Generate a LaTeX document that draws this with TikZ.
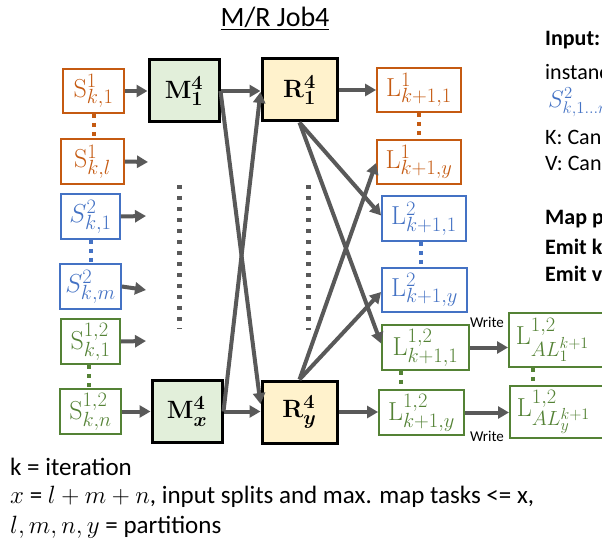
\RequirePackage{fix-cm}
\documentclass[tikz,border=0pt]{standalone}
\usepackage[no-math]{fontspec}
\setmainfont{Carlito}
\usetikzlibrary{arrows.meta,calc}
\DeclareMathSizes{26}{26}{20.5}{16}
\DeclareMathSizes{25}{25}{20}{15}
\definecolor{cOr}{HTML}{C55A11}
\definecolor{cBl}{HTML}{4472C4}
\definecolor{cGr}{HTML}{548235}
\definecolor{cAr}{HTML}{595959}
\definecolor{fM}{HTML}{E2EFDA}
\definecolor{fR}{HTML}{FFF2CC}
\tikzset{
  box/.style={draw, line width=1.8pt, inner sep=0pt, font=\fontsize{26}{30}\selectfont},
  obox/.style={box, draw=cOr, text=cOr},
  bbox/.style={box, draw=cBl, text=cBl},
  gbox/.style={box, draw=cGr, text=cGr},
  task/.style={draw=black, line width=3pt, inner sep=0pt, font=\fontsize{25}{30}\selectfont\boldmath},
  mtask/.style={task, fill=fM, minimum width=70pt, minimum height=62pt},
  rtask/.style={task, fill=fR, minimum width=75pt, minimum height=62pt},
  arr/.style={draw=cAr, line width=4pt, -{Triangle[length=11pt,width=12pt]}},
  dotc/.style={line width=4pt, dash pattern=on 4pt off 5pt},
  bigdots/.style={draw=cAr, line width=5pt, dash pattern=on 4pt off 7pt},
  rtext/.style={anchor=west, inner sep=0pt, font=\fontsize{22}{26}\selectfont},
  rbold/.style={rtext, font=\fontsize{22}{26}\selectfont\bfseries},
  btext/.style={anchor=west, inner sep=0pt, font=\fontsize{25}{30}\selectfont},
  wtext/.style={inner sep=0pt, font=\fontsize{15}{18}\selectfont}
}
\begin{document}
\begin{tikzpicture}[x=1pt,y=-1pt]
\useasboundingbox (0,0) rectangle (602,548);
\clip (0,0) rectangle (602,548);

% title
\node[inner sep=0pt, font=\fontsize{28}{32}\selectfont] (title) at (275,18) {\underline{M/R Job4}};

% input splits
\node[obox, minimum width=61pt, minimum height=44pt] (S11) at (93.5,91) {$\mathrm{S}^1_{k,1}$};
\node[obox, minimum width=63pt, minimum height=45pt] (S1l) at (92.5,161.5) {$\mathrm{S}^1_{k,l}$};
\node[bbox, minimum width=59pt, minimum height=45pt] (S21) at (90.5,216.5) {$S^2_{k,1}$};
\node[bbox, minimum width=61pt, minimum height=45pt] (S2m) at (90.5,286.5) {$S^2_{k,m}$};
\node[gbox, minimum width=59pt, minimum height=45pt] (S121) at (90.5,341.5) {$\mathrm{S}^{1,2}_{k,1}$};
\node[gbox, minimum width=61pt, minimum height=45pt] (S12n) at (90.5,411.5) {$\mathrm{S}^{1,2}_{k,n}$};

% map and reduce tasks
\node[mtask] (M1) at (184,91) {$\mathrm{M}^4_1$};
\node[mtask] (Mx) at (187,411.5) {$\mathrm{M}^4_x$};
\node[rtask] (R1) at (299.5,90) {$\mathrm{R}^4_1$};
\node[rtask] (Ry) at (299.5,412) {$\mathrm{R}^4_y$};

% outputs
\node[obox, minimum width=84pt, minimum height=44pt] (L11) at (419,90) {$\mathrm{L}^1_{k+1,1}$};
\node[obox, minimum width=84pt, minimum height=44pt] (L1y) at (419,162) {$\mathrm{L}^1_{k+1,y}$};
\node[bbox, minimum width=84pt, minimum height=45pt] (L21) at (424,218.5) {$\mathrm{L}^2_{k+1,1}$};
\node[bbox, minimum width=85pt, minimum height=44pt] (L2y) at (424.5,290) {$\mathrm{L}^2_{k+1,y}$};
\node[gbox, minimum width=87pt, minimum height=45pt] (L121) at (425.5,347.5) {$\mathrm{L}^{1,2}_{k+1,1}$};
\node[gbox, minimum width=85pt, minimum height=45pt] (L12y) at (421.5,412.5) {$\mathrm{L}^{1,2}_{k+1,y}$};
\node[gbox, anchor=west, text width=110pt, inner xsep=7pt, align=left, minimum height=54pt] (AL1) at (508,340) {$\mathrm{L}^{1,2}_{AL^{k+1}_1}$};
\node[gbox, anchor=west, text width=110pt, inner xsep=7pt, align=left, minimum height=52pt] (ALy) at (509,412) {$\mathrm{L}^{1,2}_{AL^{k+1}_y}$};

\node[wtext] (w1) at (487,322) {Write};
\node[wtext] (w2) at (487,436) {Write};

% free arrow ends and ellipsis coordinates
\coordinate (e1) at (148,162);
\coordinate (e2) at (146,216);
\coordinate (e3) at (146,290);
\coordinate (e4) at (146,341);
\coordinate (d1a) at (179,185);
\coordinate (d1b) at (179,329);
\coordinate (d2a) at (308,185);
\coordinate (d2b) at (308,330);

% dotted connectors
\draw[dotc, cOr] (S11.south) -- (S11.south |- S1l.north);
\draw[dotc, cBl] (S21.south) -- (S21.south |- S2m.north);
\draw[dotc, cGr] ([xshift=-1.5pt]S121.south) -- ([xshift=-1.5pt]S121.south |- S12n.north);
\draw[dotc, cOr] (L11.south) -- (L11.south |- L1y.north);
\draw[dotc, cBl] ([xshift=-3pt]L21.south) -- ([xshift=-3pt]L21.south |- L2y.north);
\draw[dotc, cGr] ([xshift=20pt]L121.south west) -- ([xshift=20pt]L121.south west |- L12y.north);
\draw[dotc, cGr] ([xshift=25pt]AL1.south west) -- ([xshift=25pt]AL1.south west |- ALy.north);
\draw[bigdots] (d1a) -- (d1b);
\draw[bigdots] (d2a) -- (d2b);

% arrows
\draw[arr] (S11.east) -- (S11.east -| M1.west);
\draw[arr] (S1l.east) -- (e1);
\draw[arr] (S21.east) -- (e2);
\draw[arr] (S2m.east) -- (e3);
\draw[arr] (S121.east) -- (e4);
\draw[arr] (S12n.east) -- (S12n.east -| Mx.west);

\draw[arr] (M1.east) -- (M1.east -| R1.west);
\draw[arr] (M1.east) -- ([yshift=8pt]Ry.west);
\draw[arr] (Mx.east) -- ([yshift=-2pt]R1.west);
\draw[arr] (Mx.east) -- (Mx.east -| Ry.west);

\draw[arr] (R1.east) -- (R1.east -| L11.west);
\draw[arr] (R1.south) -- ([yshift=3pt]L21.west);
\draw[arr] (R1.south) -- ([yshift=4pt]L121.west);
\draw[arr] (Ry.north) -- ([yshift=-1pt]L1y.west);
\draw[arr] (Ry.north) -- ([yshift=-2pt]L2y.west);
\draw[arr] (Ry.east) -- (Ry.east -| L12y.west);

\draw[arr] (L121.east) -- (L121.east -| AL1.west);
\draw[arr] (L12y.east) -- (L12y.east -| ALy.west);

% right-hand text
\node[rbold] (t1) at (545,40) {Input:};
\node[rtext] (t2) at (545,72) {instanc};
\node[rtext, text=cBl, font=\fontsize{24}{28}\selectfont] (t3) at (548,102) {$S^2_{k,1\ldots m}$};
\node[rtext] (t4) at (545,137) {K: Can};
\node[rtext] (t5) at (545,163) {V: Can};
\node[rbold] (t6) at (545,219) {Map p};
\node[rbold] (t7) at (545,247) {Emit k};
\node[rbold] (t8) at (545,274) {Emit v};

% bottom text
\node[btext] (b1) at (10,467) {k = iteration};
\node[btext] (b2) at (10,497) {$x$ = $l+m+n$, input splits and max. map tasks <= x,};
\node[btext] (b3) at (10,527) {$l,m,n,y$ = partitions};
\end{tikzpicture}
\end{document}
